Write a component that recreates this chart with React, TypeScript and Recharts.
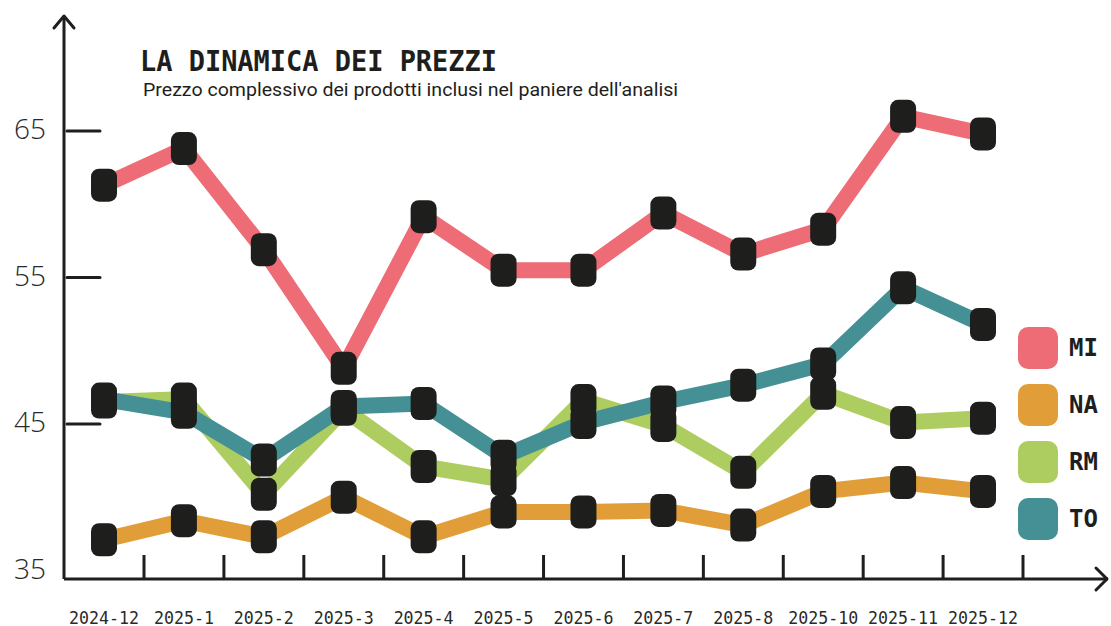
import { LineChart, Line, XAxis, YAxis, Legend } from 'recharts';

const months = ['2024-12', '2025-1', '2025-2', '2025-3', '2025-4', '2025-5', '2025-6', '2025-7', '2025-8', '2025-10', '2025-11', '2025-12'];
const miValues = [61.3, 63.8, 56.9, 48.8, 59.15, 55.5, 55.5, 59.4, 56.6, 58.3, 66.0, 64.8];
const naValues = [37.1, 38.4, 37.3, 40.0, 37.3, 39.0, 39.0, 39.1, 38.1, 40.4, 41.0, 40.4];
const rmValues = [46.5, 46.7, 40.2, 46.0, 42.1, 41.2, 46.6, 44.9, 41.7, 47.1, 45.1, 45.4];
const toValues = [46.7, 45.8, 42.55, 46.2, 46.4, 42.8, 45.1, 46.5, 47.65, 49.1, 54.3, 51.8];
const yTicks = [35, 45, 55, 65];

const series = [
  { key: 'MI', color: '#EE6C75' },
  { key: 'NA', color: '#E19E38' },
  { key: 'RM', color: '#AECD60' },
  { key: 'TO', color: '#449094' },
];

const data = months.map((m, i) => ({
  month: m,
  MI: miValues[i],
  NA: naValues[i],
  RM: rmValues[i],
  TO: toValues[i],
}));

const INK = '#1e1e1c';

// dark rounded marker
const Marker = (props: any) => {
  const { cx, cy } = props;
  if (cx == null || cy == null) return null;
  return <rect x={cx - 13} y={cy - 16.5} width={26} height={33} rx={8} fill={INK} />;
};

const YTick = (props: any) => {
  const { x, y, payload } = props;
  return (
    <g>
      <text
        x={x - 34}
        y={y - 3}
        textAnchor="middle"
        dominantBaseline="central"
        fontFamily="'Open Sans', sans-serif"
        fontWeight={300}
        fontSize={28}
        fill="#2a2a2a"
      >
        {payload.value}
      </text>
      {payload.value !== yTicks[0] && (
        <line x1={x + 3} x2={x + 36} y1={y} y2={y} stroke={INK} strokeWidth={3} strokeLinecap="round" />
      )}
    </g>
  );
};

const XTick = (props: any) => {
  const { x, y, payload } = props;
  const label = String(payload.value);
  return (
    <g>
      <line x1={x + 40} x2={x + 40} y1={y - 24} y2={y} stroke={INK} strokeWidth={3} />
      <text
        x={x}
        y={y + 38}
        textAnchor="middle"
        dominantBaseline="central"
        fontFamily="'DejaVu Sans Mono', monospace"
        fontSize={18}
        fill="#2a2a2a"
        textLength={label.length * 10}
        lengthAdjust="spacingAndGlyphs"
      >
        {label}
      </text>
    </g>
  );
};

const LegendBox = () => (
  <div style={{ display: 'flex', flexDirection: 'column', gap: 15 }}>
    {series.map((s) => (
      <div key={s.key} style={{ display: 'flex', alignItems: 'center', height: 42 }}>
        <div style={{ width: 40, height: 42, borderRadius: 10, background: s.color }} />
        <span
          style={{
            marginLeft: 11,
            fontFamily: "'DejaVu Sans Mono', monospace",
            fontWeight: 700,
            fontSize: 24,
            color: INK,
          }}
        >
          {s.key}
        </span>
      </div>
    ))}
  </div>
);

export default function App() {
  return (
    <div style={{ position: 'absolute', left: 0, top: 0, width: 1111, height: 626, background: '#fff' }}>
      <LineChart width={1111} height={626} data={data} margin={{ top: 16, right: 3, left: 0, bottom: 0 }}>
        <XAxis
          dataKey="month"
          height={47}
          padding={{ left: 40, right: 125 }}
          axisLine={{ stroke: INK, strokeWidth: 3 }}
          tickLine={false}
          tickSize={0}
          tickMargin={0}
          tick={<XTick />}
          interval={0}
        />
        <YAxis
          width={64}
          domain={[34.42, 72.85]}
          ticks={yTicks}
          allowDataOverflow
          axisLine={{ stroke: INK, strokeWidth: 3 }}
          tickLine={false}
          tickSize={0}
          tickMargin={0}
          tick={<YTick />}
        />
        <Legend
          layout="vertical"
          verticalAlign="middle"
          align="center"
          wrapperStyle={{ position: 'absolute', left: 1018, top: 327, width: 90 }}
          content={<LegendBox />}
        />
        {series.map((s) => (
          <Line
            key={s.key}
            type="linear"
            dataKey={s.key}
            stroke={s.color}
            strokeWidth={16}
            strokeLinejoin="miter"
            dot={false}
            activeDot={false}
            isAnimationActive={false}
          />
        ))}
        {series.map((s) => (
          <Line
            key={s.key + '-dots'}
            type="linear"
            dataKey={s.key}
            stroke="none"
            legendType="none"
            dot={<Marker />}
            activeDot={false}
            isAnimationActive={false}
          />
        ))}
      </LineChart>
      <svg
        width={1111}
        height={626}
        style={{ position: 'absolute', left: 0, top: 0, pointerEvents: 'none' }}
      >
        <polyline points="54,28 64,16 74,28" fill="none" stroke={INK} strokeWidth={3} strokeLinecap="round" strokeLinejoin="round" />
        <polyline points="1096,568 1107,579 1096,590" fill="none" stroke={INK} strokeWidth={3} strokeLinecap="round" strokeLinejoin="round" />
        <text
          x={140}
          y={61}
          dominantBaseline="central"
          fontFamily="'DejaVu Sans Mono', monospace"
          fontWeight={700}
          fontSize={28}
          fill={INK}
          textLength={357}
          lengthAdjust="spacingAndGlyphs"
        >
          LA DINAMICA DEI PREZZI
        </text>
        <text
          x={143}
          y={89}
          dominantBaseline="central"
          fontFamily="Roboto, sans-serif"
          fontSize={19}
          fill={INK}
          textLength={535}
          lengthAdjust="spacingAndGlyphs"
        >
          Prezzo complessivo dei prodotti inclusi nel paniere dell'analisi
        </text>
      </svg>
    </div>
  );
}
